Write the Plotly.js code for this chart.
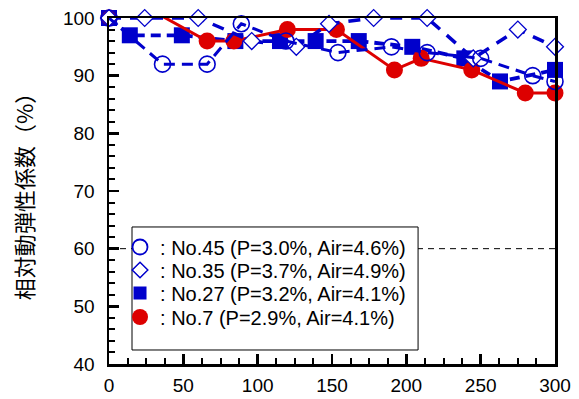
<!DOCTYPE html>
<html>
<head>
<meta charset="utf-8">
<script src="https://cdn.plot.ly/plotly-3.0.1.min.js"></script>
<style>html,body{margin:0;padding:0;background:#fff;}#chart{width:579px;height:399px;}</style>
</head>
<body>
<div id="chart"></div>
<script>
// ---- data ----
const seriesNames = [": No.45 (P=3.0%, Air=4.6%)", ": No.35 (P=3.7%, Air=4.9%)", ": No.27 (P=3.2%, Air=4.1%)", ": No.7 (P=2.9%, Air=4.1%)"];
const x45 = [0, 36, 66, 89, 119, 154, 190, 214, 250, 285, 300];
const y45 = [100, 92, 92, 99, 96, 94, 95, 94, 93, 90, 89];
const x35 = [0, 24, 60, 96, 126, 148, 178, 214, 245, 275, 300];
const y35 = [100, 100, 100, 96, 95, 99, 100, 100, 93, 98, 95];
const x27 = [0, 14, 49, 85, 115, 139, 168, 204, 239, 263, 300];
const y27 = [100, 97, 97, 96, 96, 96, 96, 95, 93, 89, 91];
const x7 = [0, 24, 66, 84, 120, 153, 192, 210, 244, 280, 300];
const y7 = [100, 102, 96, 96, 98, 98, 91, 93, 91, 87, 87];
const refLineY = 60;
const xTicks = [0, 50, 100, 150, 200, 250, 300];
const yTicks = [40, 50, 60, 70, 80, 90, 100];
const yTitle = "相対動弾性係数（%）";

const BLUE = "#0000cc", RED = "#dd0000";
const yMax = 100;
// markers of off-scale points are not drawn (clipped in the reference)
const x7m = x7.filter((v, i) => y7[i] <= yMax);
const y7m = y7.filter(v => v <= yMax);

const sty = {
  c45: {line: {color: BLUE, width: 3, dash: "11px,7px"}, marker: {symbol: "circle-open", size: 16, color: BLUE, line: {width: 1.6}}},
  c35: {line: {color: BLUE, width: 3.5, dash: "12px,9px"}, marker: {symbol: "diamond", size: 13, color: "#ffffff", line: {color: BLUE, width: 1.3}}},
  c27: {line: {color: BLUE, width: 3.8, dash: "10px,6px"}, marker: {symbol: "square", size: 16, color: BLUE, line: {width: 0}}},
  c7:  {line: {color: RED, width: 3}, marker: {symbol: "circle", size: 17, color: RED, line: {width: 0}}}
};

const traces = [
  {x: x27, y: y27, mode: "lines+markers", line: sty.c27.line, marker: sty.c27.marker, showlegend: false, cliponaxis: false},
  {x: x7, y: y7, mode: "lines", line: sty.c7.line, showlegend: false, cliponaxis: false},
  {x: x7m, y: y7m, mode: "markers", marker: sty.c7.marker, showlegend: false, cliponaxis: false},
  {x: x35, y: y35, mode: "lines+markers", line: sty.c35.line, marker: sty.c35.marker, showlegend: false, cliponaxis: false},
  {x: x45, y: y45, mode: "lines+markers", line: sty.c45.line, marker: sty.c45.marker, showlegend: false, cliponaxis: false},
  // legend entries (marker only), one legend per row for exact spacing
  {x: [null], y: [null], mode: "markers", name: seriesNames[0], legend: "legend", marker: {symbol: "circle-open", size: 15, color: BLUE, line: {width: 1.8}}},
  {x: [null], y: [null], mode: "markers", name: seriesNames[1], legend: "legend2", marker: {symbol: "diamond-open", size: 12, color: BLUE, line: {width: 1.5}}},
  {x: [null], y: [null], mode: "markers", name: seriesNames[2], legend: "legend3", marker: {symbol: "square", size: 13, color: BLUE}},
  {x: [null], y: [null], mode: "markers", name: seriesNames[3], legend: "legend4", marker: {symbol: "circle", size: 16, color: RED}}
];

const tickFont = {family: "Arial, 'Liberation Sans', sans-serif", size: 19, color: "#000"};
const legFont = {family: "Arial, 'Liberation Sans', sans-serif", size: 20, color: "#000"};
function leg(yc) {
  return {x: 0.0247, y: yc, xanchor: "left", yanchor: "middle", bgcolor: "rgba(0,0,0,0)", borderwidth: 0, font: legFont, itemclick: false};
}
const layout = {
  width: 579, height: 399,
  margin: {l: 109, r: 24, t: 18, b: 35},
  paper_bgcolor: "#fff", plot_bgcolor: "#fff",
  showlegend: true,
  xaxis: {
    range: [0, 300], tickvals: xTicks, ticks: "inside", ticklen: 10, tickwidth: 2.5, tickcolor: "#000",
    minor: {dtick: 12.5, ticks: "inside", ticklen: 6, tickwidth: 2, tickcolor: "#000"},
    showline: true, linecolor: "#000", linewidth: 2.5, mirror: true,
    showgrid: false, zeroline: false, tickfont: tickFont, ticklabelstandoff: 3
  },
  yaxis: {
    range: [40, 100], tickvals: yTicks, ticks: "inside", ticklen: 10, tickwidth: 2.5, tickcolor: "#000",
    minor: {dtick: 2, ticks: "inside", ticklen: 6, tickwidth: 2, tickcolor: "#000"},
    showline: true, linecolor: "#000", linewidth: 2.5, mirror: true,
    showgrid: false, zeroline: false, tickfont: tickFont, ticklabelstandoff: 8,
    title: {text: yTitle, font: {family: "'Noto Sans CJK JP', sans-serif", size: 22, color: "#000"}, standoff: 24}
  },
  shapes: [
    {type: "line", xref: "paper", yref: "y", x0: 0, x1: 1, y0: refLineY, y1: refLineY,
     line: {color: "#000", width: 1, dash: "6px,5px"}, layer: "above"},
    {type: "rect", xref: "paper", yref: "paper", x0: 0.0516, x1: 0.693, y0: 0.0405, y1: 0.396,
     line: {color: "#000", width: 1}, fillcolor: "#fff", layer: "above"}
  ],
  legend: leg(0.3382),
  legend2: leg(0.2717),
  legend3: leg(0.2052),
  legend4: leg(0.1358)
};

Plotly.newPlot("chart", traces, layout, {displayModeBar: false, staticPlot: true});
</script>
</body>
</html>
